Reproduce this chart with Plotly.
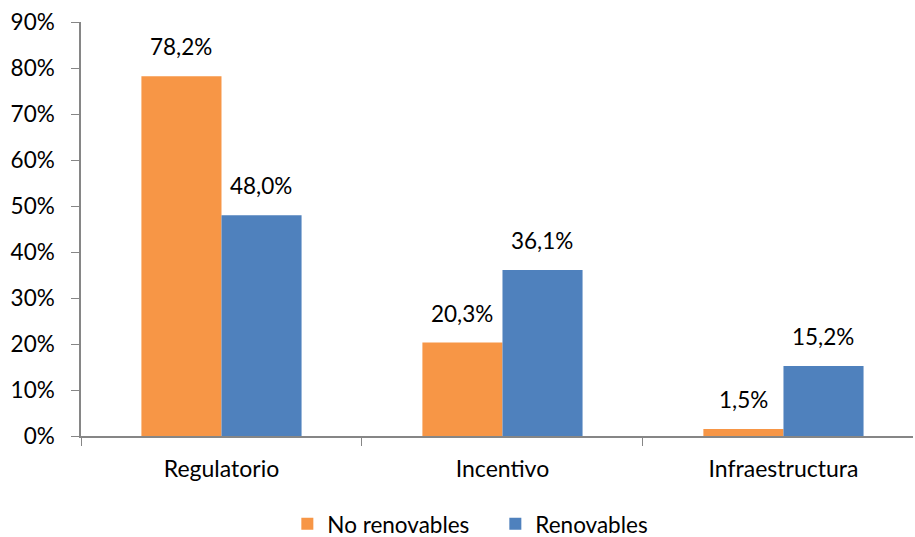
import plotly.graph_objects as go

categories = ["Regulatorio", "Incentivo", "Infraestructura"]
no_renovables = [78.2, 20.3, 1.5]
renovables = [48.0, 36.1, 15.2]
y_ticks = [0, 10, 20, 30, 40, 50, 60, 70, 80, 90]
y_tick_labels = [f"{v}%" for v in y_ticks]

ORANGE = "#F79646"
BLUE = "#4F81BD"
AXIS = "#868686"
FONT = "Lato"
SIZE = 22.5

fig = go.Figure()
fig.add_trace(go.Bar(name="No renovables", x=categories, y=no_renovables,
                     marker=dict(color=ORANGE, line=dict(width=0))))
fig.add_trace(go.Bar(name="Renovables", x=categories, y=renovables,
                     marker=dict(color=BLUE, line=dict(width=0))))


def fmt(v):
    return f"{v:.1f}".replace(".", ",") + "%"


# value labels above each bar (left bar of the pair shifted left, right bar shifted right)
for series, shift in ((no_renovables, -40), (renovables, 40)):
    for cat, v in zip(categories, series):
        fig.add_annotation(x=cat, y=v, text=fmt(v), showarrow=False,
                           xshift=shift, yshift=14, yanchor="bottom",
                           font=dict(family=FONT, size=SIZE, color="#000000"))

fig.update_layout(
    width=915, height=537,
    margin=dict(l=81, r=2, t=22, b=101, autoexpand=False),
    paper_bgcolor="white", plot_bgcolor="white",
    barmode="group", bargap=0.43, bargroupgap=0,
    font=dict(family=FONT, size=SIZE, color="#000000"),
    showlegend=True,
    legend=dict(orientation="h", x=0.248, xanchor="left", y=-0.213, yanchor="middle",
                font=dict(family=FONT, size=SIZE), itemwidth=30, tracegroupgap=0,
                entrywidth=163, entrywidthmode="pixels"),
    xaxis=dict(type="category", range=[-0.5, 2.461], tickson="boundaries",
               ticks="outside", ticklen=8, tickcolor=AXIS, showline=True,
               linecolor=AXIS, linewidth=1.5, showgrid=False,
               ticklabelstandoff=12,
               tickfont=dict(family=FONT, size=23)),
    yaxis=dict(range=[0, 90], tickmode="array", tickvals=y_ticks, ticktext=y_tick_labels,
               ticks="outside", ticklen=8, tickcolor=AXIS, showline=True,
               linecolor=AXIS, linewidth=1.5, showgrid=False, zeroline=False,
               ticklabelstandoff=12,
               tickfont=dict(family=FONT, size=SIZE)),
)

fig.write_html("out.html")
